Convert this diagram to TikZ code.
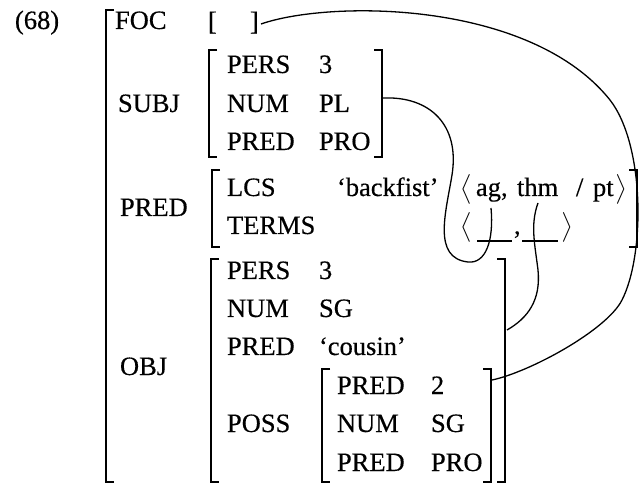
\documentclass[tikz,border=0pt]{standalone}
\usepackage{exscale}
\usepackage{fontspec}
\setmainfont{Liberation Serif}[FakeBold=0.4]
\newcommand\LBr[4]{\draw[#4] (#1+8,#2) -- (#1,#2) -- (#1,#3) -- (#1+8,#3);}
\newcommand\RBr[4]{\draw[#4] (#1-8,#2) -- (#1,#2) -- (#1,#3) -- (#1-8,#3);}
\begin{document}
\begin{tikzpicture}[x=1pt,y=-1pt,
  txt/.style={anchor=base west,inner sep=0pt,outer sep=0pt,font=\fontsize{26.5}{30}\selectfont},
  brk/.style={line width=1.8pt},
  outerbrk/.style={line width=2.3pt},
  blank/.style={line width=1.2pt},
  link/.style={line width=1.3pt}]
\useasboundingbox (0,0) rectangle (641,484);
% example number
\node[txt] (num) at (15,29) {(68)};
% outer bracket
\LBr{106}{10}{482}{outerbrk}
% top-level attributes
\node[txt] (foc)  at (115,29)  {FOC};
\node[txt] (subj) at (118,112) {SUBJ};
\node[txt] (pred) at (120,216) {PRED};
\node[txt] (obj)  at (120,375) {OBJ};
% FOC value
\node[txt] (focL) at (208,30) {[};
\node[txt] (focRb) at (250,30) {]};
\coordinate (focR) at (261,24);
% SUBJ matrix
\LBr{209}{50}{157}{brk}
\RBr{382}{50}{157}{brk}
\node[txt] (sPers) at (227,73)  {PERS};
\node[txt] (sPersV) at (319,73) {3};
\node[txt] (sNum) at (227,112) {NUM};
\node[txt] (sNumV) at (319,112) {PL};
\node[txt] (sPred) at (227,150) {PRED};
\node[txt] (sPredV) at (319,150) {PRO};
\coordinate (subjR) at (383,98);
% PRED matrix
\LBr{212}{170}{247}{brk}
\RBr{637}{170}{247}{brk}
\node[txt] (lcs) at (227,196) {LCS};
\node[txt] (lcsV) at (337,196) {‘backfist’};
\node[txt] (terms) at (227,234) {TERMS};
\node[txt] (la1) at (460,196) {$\big\langle$};
\node[txt] (ag) at (476,196) {ag,};
\node[txt] (thm) at (517,196) {thm};
\node[txt] (sl) at (576,196) {/};
\node[txt] (pt) at (593,196) {pt};
\node[txt] (ra1) at (615,196) {$\big\rangle$};
\node[txt] (la2) at (460,234) {$\big\langle$};
\coordinate (b1s) at (477,241);
\coordinate (b1e) at (512,241);
\node[txt] (comma) at (514,234) {,};
\coordinate (b2s) at (522,241);
\coordinate (b2e) at (558,241);
\node[txt] (ra2) at (561,234) {$\big\rangle$};
\draw[blank] (b1s) -- (b1e);
\draw[blank] (b2s) -- (b2e);
\coordinate (agB) at (491,208);
\coordinate (thmB) at (538,203);
% OBJ matrix
\LBr{211}{259}{482}{brk}
\RBr{505}{259}{482}{brk}
\node[txt] (oPers) at (227,279) {PERS};
\node[txt] (oPersV) at (319,279) {3};
\node[txt] (oNum) at (227,317) {NUM};
\node[txt] (oNumV) at (319,317) {SG};
\node[txt] (oPred) at (227,355) {PRED};
\node[txt] (oPredV) at (319,355) {‘cousin’};
\node[txt] (poss) at (227,432) {POSS};
\coordinate (obR) at (507,330);
% POSS matrix
\LBr{322}{369}{482}{brk}
\RBr{491}{369}{482}{brk}
\node[txt] (pPred) at (337,394) {PRED};
\node[txt] (pPredV) at (431,394) {2};
\node[txt] (pNum) at (337,432) {NUM};
\node[txt] (pNumV) at (431,432) {SG};
\node[txt] (pPro) at (337,471) {PRED};
\node[txt] (pProV) at (431,471) {PRO};
\coordinate (possR) at (492,380);
% linking curves
\draw[link] (focR) .. controls (330,0) and (530,0) .. (610,100)
  .. controls (645,145) and (645,255) .. (622,300)
  .. controls (607,330) and (530,372) .. (possR);
\draw[link] (subjR) .. controls (430,96) and (460,125) .. (452,175)
  .. controls (446,212) and (432,258) .. (468,262)
  .. controls (486,264) and (494,240) .. (agB);
\draw[link] (obR) .. controls (528,318) and (541,300) .. (538,270)
  .. controls (535,245) and (530,225) .. (thmB);
\end{tikzpicture}
\end{document}
